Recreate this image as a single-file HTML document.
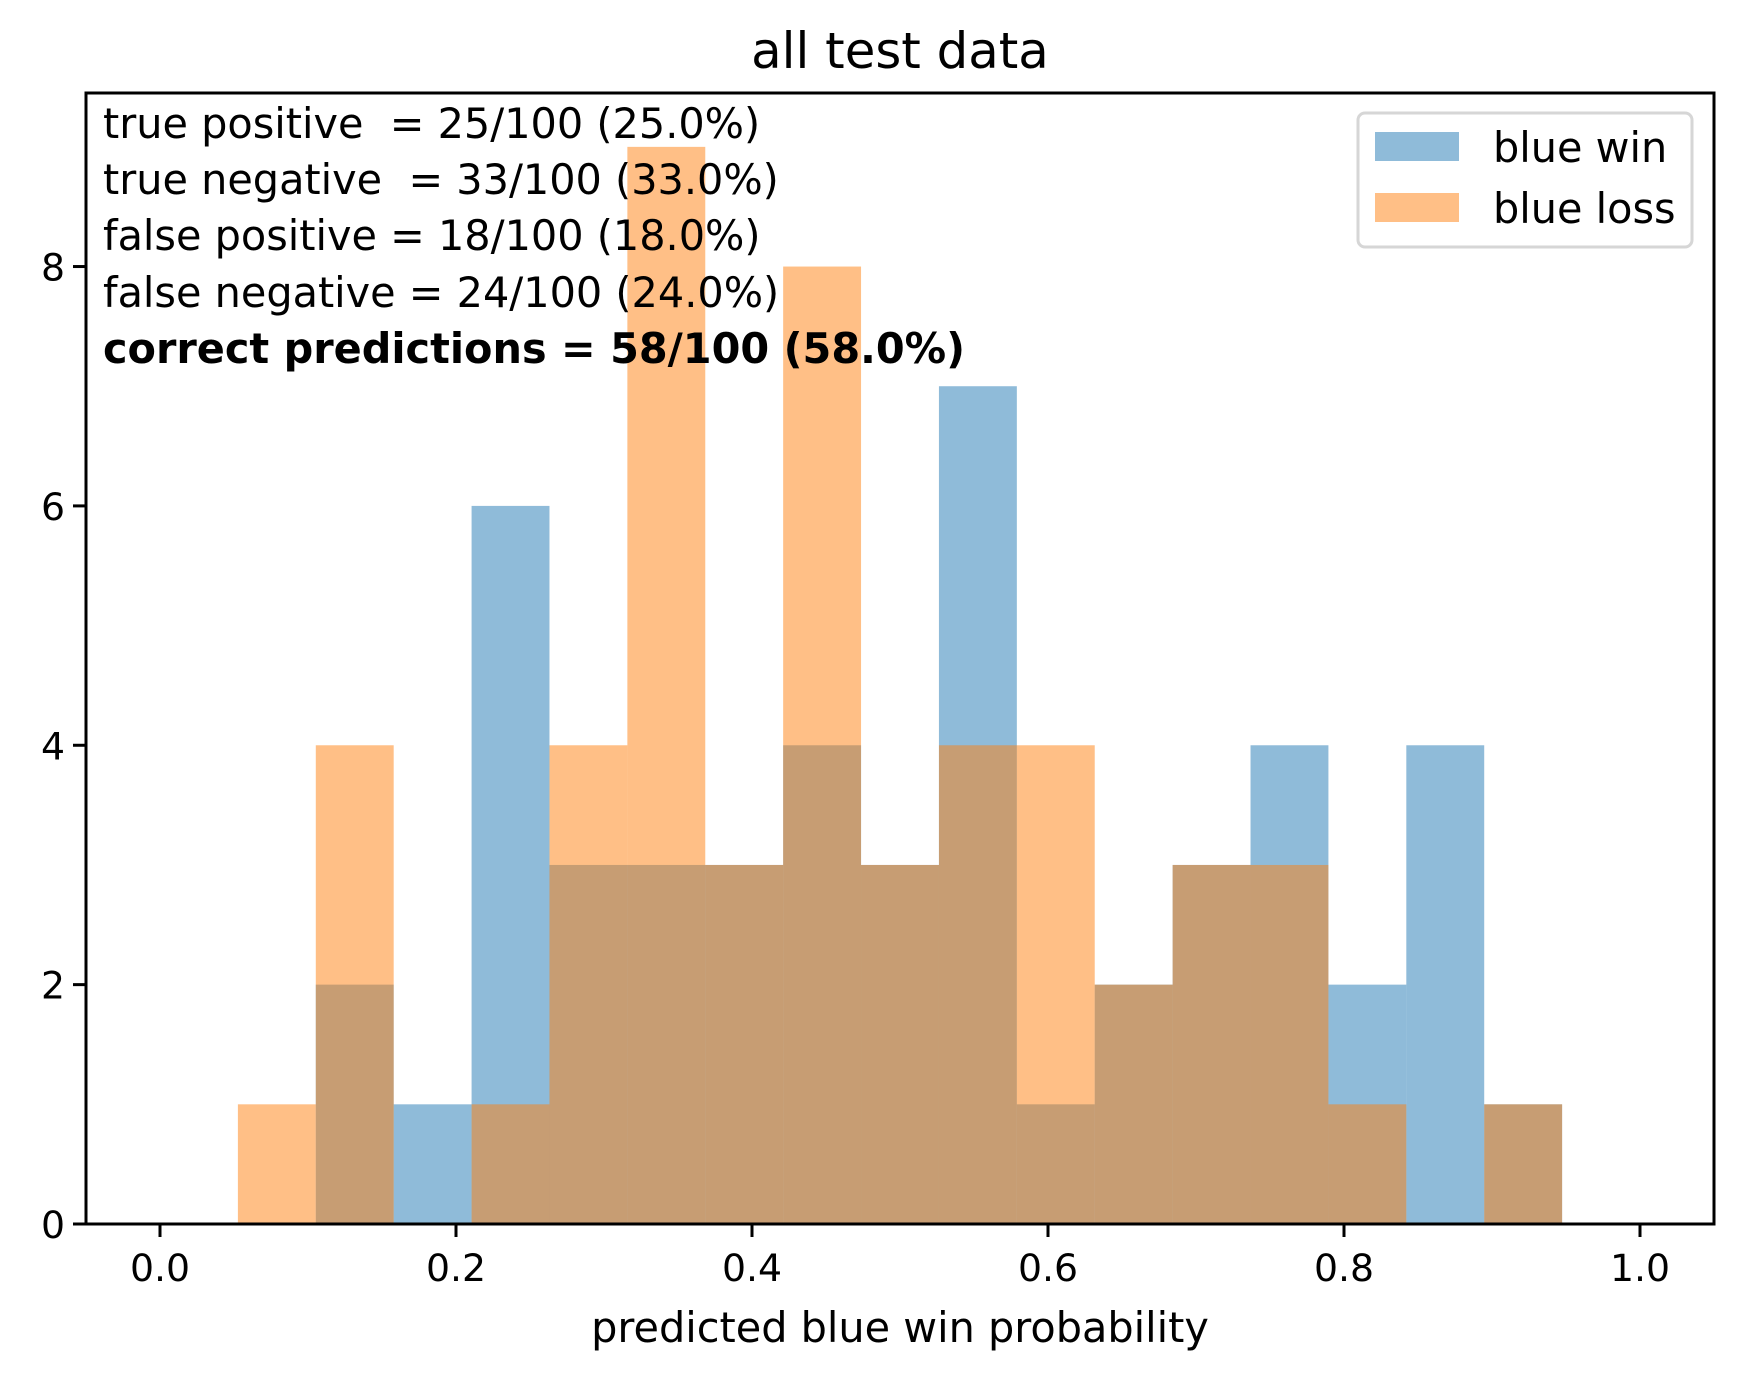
<!DOCTYPE html>
<html><head><meta charset="utf-8"><style>
html,body{margin:0;padding:0;background:#fff}
svg{display:block;font-family:"DejaVu Sans","Liberation Sans",sans-serif}
</style></head><body>
<svg id="chart" width="1743" height="1381" viewBox="0 0 1743 1381" xmlns="http://www.w3.org/2000/svg">
<rect x="0" y="0" width="1743" height="1381" fill="#fff"/>
<text x="900" y="68" font-size="49.8" text-anchor="middle">all test data</text>
<g id="bars"></g>
<g id="axes"></g>
<g font-size="41.4">
<text x="103" y="138" xml:space="preserve">true positive  = 25/100 (25.0%)</text>
<text x="103" y="194" xml:space="preserve">true negative  = 33/100 (33.0%)</text>
<text x="103" y="250">false positive = 18/100 (18.0%)</text>
<text x="103" y="307">false negative = 24/100 (24.0%)</text>
<text x="103" y="363" font-weight="bold">correct predictions = 58/100 (58.0%)</text>
</g>
<g>
<rect x="1358" y="113" width="334" height="134" rx="7" fill="#fff" fill-opacity="0.8" stroke="#d6d6d6" stroke-width="3"/>
<rect x="1375" y="132" width="84" height="29" fill="#1f77b4" fill-opacity="0.5"/>
<text x="1493" y="162" font-size="41.4">blue win</text>
<rect x="1375" y="193" width="84" height="29" fill="#ff7f0e" fill-opacity="0.5"/>
<text x="1493" y="223" font-size="41.4">blue loss</text>
</g>
<text x="900" y="1342" font-size="41.4" text-anchor="middle">predicted blue win probability</text>
</svg>
<script>
const binEdgesCount = 19;
const blueWin = [0,0,2,1,6,3,3,3,4,3,7,1,2,3,4,2,4,1,0];
const blueLoss = [0,1,4,0,1,4,9,3,8,3,4,4,2,3,3,1,0,1,0];
const xTicks = [0.0,0.2,0.4,0.6,0.8,1.0];
const xTickLabels = ["0.0","0.2","0.4","0.6","0.8","1.0"];
const yTicks = [0,2,4,6,8];
const yTickLabels = ["0","2","4","6","8"];

const L=86,R=1714,T=93,B=1224;
const xMin=-0.05,xMax=1.05,yMin=0,yMax=9.45;
const sx=v=>L+(v-xMin)/(xMax-xMin)*(R-L);
const sy=v=>B-(v-yMin)/(yMax-yMin)*(B-T);
const NS="http://www.w3.org/2000/svg";
const bars=document.getElementById('bars');
const axes=document.getElementById('axes');
function mk(tag,attrs,parent){const e=document.createElementNS(NS,tag);for(const k in attrs)e.setAttribute(k,attrs[k]);parent.appendChild(e);return e;}
function drawSeries(vals,color,name){
  vals.forEach((v,i)=>{
    if(v<=0)return;
    const x0=sx(i/binEdgesCount),x1=sx((i+1)/binEdgesCount);
    const r=mk('rect',{x:x0,y:sy(v),width:x1-x0,height:sy(0)-sy(v),fill:color,'fill-opacity':0.5},bars);
    
    
  });
}
drawSeries(blueWin,'#1f77b4','blue-win');
drawSeries(blueLoss,'#ff7f0e','blue-loss');
const frame=mk('rect',{x:L,y:T,width:R-L,height:B-T,fill:'none',stroke:'#000','stroke-width':3},axes);


xTicks.forEach((v,i)=>{
  const x=sx(v);
  const t=mk('line',{x1:x,x2:x,y1:B,y2:B+13,stroke:'#000','stroke-width':3},axes);
  
  
  const l=mk('text',{x:x,y:B+57,'font-size':37.8,'text-anchor':'middle'},axes);
  l.textContent=xTickLabels[i];
  
  
});
yTicks.forEach((v,i)=>{
  const y=sy(v);
  const t=mk('line',{x1:L-13,x2:L,y1:y,y2:y,stroke:'#000','stroke-width':3},axes);
  
  
  const l=mk('text',{x:L-21,y:y+14,'font-size':37.8,'text-anchor':'end'},axes);
  l.textContent=yTickLabels[i];
  
  
});
</script>
</body></html>
